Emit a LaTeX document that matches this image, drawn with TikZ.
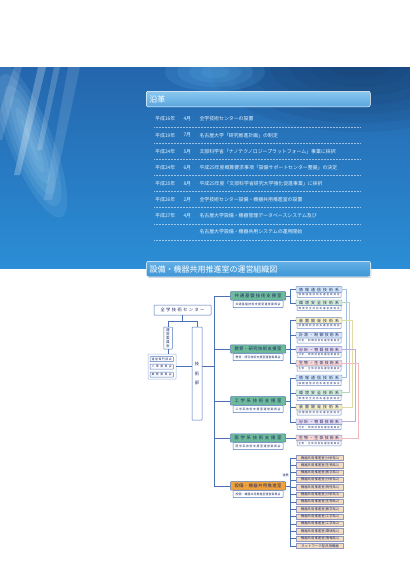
\documentclass[tikz,border=0pt]{standalone}
\usepackage{fontspec}
\newfontfamily\jp{Noto Sans CJK JP}
\usetikzlibrary{shadows}
\definecolor{bandtop}{HTML}{2466AD}
\definecolor{bandbot}{HTML}{2B8ED6}
\definecolor{banddark}{HTML}{14365F}
\definecolor{bandlight}{HTML}{5FB0EA}
\definecolor{streak}{HTML}{B8E4FA}
\definecolor{histtxt}{HTML}{EAF4FC}
\definecolor{hdrtop}{HTML}{8AC8EF}
\definecolor{hdrbot}{HTML}{5AA6DE}
\definecolor{hdrtopB}{HTML}{62B0E6}
\definecolor{hdrbotB}{HTML}{3F95D6}
\definecolor{navy}{HTML}{1F2D6B}
\definecolor{lineblue}{HTML}{4A70B5}
\definecolor{boxblue}{HTML}{4F74B8}
\definecolor{roomgreen}{HTML}{6DBB98}
\definecolor{roomorange}{HTML}{F2A23A}
\definecolor{cInfo}{HTML}{CFE3F5}
\definecolor{cEnv}{HTML}{D3ECD3}
\definecolor{cDev}{HTML}{F7EFC0}
\definecolor{cMes}{HTML}{D6E4F5}
\definecolor{cAna}{HTML}{E4D8F0}
\definecolor{cBio}{HTML}{F6D3CF}
\definecolor{lInfoC}{HTML}{A4BEDE}
\definecolor{lEnvC}{HTML}{B0D8B8}
\definecolor{lDevC}{HTML}{DCDCA8}
\definecolor{lAnaC}{HTML}{BCAEDC}
\definecolor{lBioC}{HTML}{F2B8BE}
\definecolor{peach}{HTML}{F3DCBF}
\definecolor{peachborder}{HTML}{9098C0}
\makeatletter
\def\sp@go{\@tfor\sp@c:=}
\newcommand\spreadw[2]{\makebox[#1]{\edef\sp@list{#2}\def\sp@first{1}%
  \expandafter\sp@go\sp@list\do{\ifx\sp@first\@empty\hfill\fi\sp@c\let\sp@first\@empty}}}
\makeatother
\newcommand\myfs[1]{\fontsize{#1}{#1}\selectfont}
\begin{document}
\begin{tikzpicture}[x=1pt,y=-1pt,
  hdr/.style={draw=white, line width=0.5pt, rounded corners=2pt, text=white,
    font=\jp\myfs{8}, inner xsep=3pt, text width=218pt, align=left, minimum height=15.5pt},
  histline/.style={draw=white, opacity=0.55, line width=0.4pt, dash pattern=on 0.6pt off 0.9pt},
  histtext/.style={text=histtxt, font=\jp\myfs{4.9}, anchor=west, inner sep=0pt},
  conn/.style={draw=lineblue, line width=0.7pt},
  wbox/.style={draw=boxblue, fill=white, line width=0.5pt, text=navy, inner sep=0pt, rounded corners=0.5pt},
  roombox/.style={draw=boxblue, line width=0.5pt, text=navy, inner sep=0pt, minimum width=55pt,
    minimum height=8.3pt, font=\jp\myfs{4.4}, rounded corners=0.6pt},
  roomsub/.style={wbox, minimum width=50pt, minimum height=7pt, font=\jp\myfs{2.9}},
  itemm/.style={draw=boxblue!80, line width=0.45pt, text=navy, inner sep=0pt, minimum width=46pt,
    minimum height=5.7pt, font=\jp\myfs{3.9}, rounded corners=0.5pt},
  items/.style={wbox, draw=boxblue!80, minimum width=44pt, minimum height=5pt, font=\jp\myfs{2.5}},
  colline/.style={line width=0.9pt},
  listbox/.style={draw=peachborder, fill=peach, line width=0.4pt, text=navy, inner sep=0pt,
    minimum width=47pt, minimum height=5.2pt, font=\jp\myfs{3.4},
    drop shadow={shadow xshift=0.6pt, shadow yshift=-0.6pt, fill=black!35, opacity=1}}
]
\useasboundingbox (0,0) rectangle (410,579);
\fill[white] (0,0) rectangle (410,579);
% ---- blue band ----
\begin{scope}
\clip (0,67) rectangle (410,268.5);
\shade[top color=bandtop, bottom color=bandbot] (0,67) rectangle (410,268.5);
\foreach \r in {1,...,7}{
  \fill[banddark, opacity=0.11] (360,66) ellipse ({170-20*\r} and {75-9*\r});
}
\foreach \r in {1,...,4}{
  \fill[bandlight, opacity=0.16] (215,72) ellipse ({62-12*\r} and {24-4.5*\r});
}
\foreach \r in {1,...,6}{
  \fill[streak, opacity=0.11, rotate around={-68:(30,140)}] (30,140) ellipse ({95-12*\r} and {26-4*\r});
}
\fill[white, opacity=0.25] (38,67) -- (46,67) -- (20,175) -- (14,175) -- cycle;
\fill[white, opacity=0.18] (54,67) -- (60,67) -- (42,150) -- (37,150) -- cycle;
\fill[white, opacity=0.15] (14,67) -- (22,67) -- (2,140) -- (0,140) -- (0,110) -- cycle;
\fill[white, opacity=0.12] (68,67) -- (80,67) -- (52,200) -- (44,200) -- cycle;
\end{scope}
% ---- history ----
\node[hdr, top color=hdrtop, bottom color=hdrbot] (hist) at (258.3,99) {沿革};
\foreach \i/\yr/\mo/\ev in {
  1/平成16年/4月/全学技術センターの設置,
  2/平成19年/7月/名古屋大学「研究推進計画」の制定,
  3/平成24年/5月/文部科学省「ナノテクノロジープラットフォーム」事業に採択,
  4/平成24年/6月/平成25年度概算要求事項「設備サポートセンター整備」の決定,
  5/平成25年/8月/平成25年度「文部科学省研究大学強化促進事業」に採択,
  6/平成26年/2月/全学技術センター設備・機器共用推進室の設置,
  7/平成27年/4月/名古屋大学設備・機器管理データベースシステム及び,
  8///名古屋大学設備・機器共用システムの運用開始}{
  \node[histtext] (yr\i) at (155,{119+16.15*(\i-1)}) {\yr};
  \node[histtext] (mo\i) at (183.3,{119+16.15*(\i-1)}) {\mo};
  \node[histtext] (ev\i) at (199.3,{119+16.15*(\i-1)}) {\ev};
}
\foreach \i in {1,...,8}{
  \draw[histline] (154,{126.8+16.15*(\i-1)}) -- (360,{126.8+16.15*(\i-1)});
}
% ---- org chart header ----
\node[hdr, top color=hdrtopB, bottom color=hdrbotB,
  drop shadow={shadow xshift=0.8pt, shadow yshift=-1.2pt, fill=black!30, opacity=0.6}]
  (orgh) at (258.5,269) {設備・機器共用推進室の運営組織図};
% ---- left part ----
\node[wbox, minimum width=57pt, minimum height=10pt, font=\jp\myfs{4.3}] (center) at (182.5,310)
  {\spreadw{44pt}{全学技術センター}};
\node[wbox, minimum width=8.5pt, minimum height=22pt, align=center,
  font=\jp\fontsize{3.6}{4.1}\selectfont] (unei) at (168,338) {運\\営\\委\\員\\会};
\node[wbox, minimum width=10pt, minimum height=93pt, align=center,
  font=\jp\fontsize{4.3}{9.6}\selectfont] (gijutsu) at (197,373.5) {技\\術\\部};
\node[wbox, draw=boxblue!55, minimum width=28pt, minimum height=25pt] (grp) at (162,366.5) {};
\node[wbox, minimum width=23.3pt, minimum height=5pt, font=\jp\myfs{2.9}] (c1) at (161.7,359.2)
  {\spreadw{20pt}{運営専門部会}};
\node[wbox, minimum width=23.3pt, minimum height=5pt, font=\jp\myfs{2.9}] (c2) at (161.7,366.7)
  {\spreadw{20pt}{人事委員会}};
\node[wbox, minimum width=23.3pt, minimum height=5pt, font=\jp\myfs{2.9}] (c3) at (161.7,374.7)
  {\spreadw{20pt}{業務委員会}};
\coordinate (j1) at (182.5,321.7);
\coordinate (trunkx) at (214,0);
\coordinate (bx) at (290,0);
\draw[conn] (center.south) -- (j1);
\draw[conn] (unei.north) |- (j1);
\draw[conn] (gijutsu.north) |- (j1);
\draw[conn] (unei.south) -- (unei.south |- grp.north);
\draw[conn] (grp.east) -- (grp.east -| gijutsu.west);
\draw[conn] (grp.east -| gijutsu.east) -- (grp.east -| trunkx);
% ---- rooms ----
\foreach \n/\yc/\col/\lab in {
  kyotsu/295.85/roomgreen/共通基盤技術支援室,
  kyoiku/349/roomgreen/教育・研究技術支援室,
  kogaku/400.85/roomgreen/工学系技術支援室,
  igaku/438/roomgreen/医学系技術支援室,
  setsubi/485.85/roomorange/設備・機器共用推進室}{
  \node[roombox, fill=\col] (\n) at (258,\yc) {\spreadw{47pt}{\lab}};
  \node[roomsub] (\n-sub) at (258,\yc+8.15) {\spreadw{45pt}{\lab 運営委員会}};
}
\draw[conn] (kyotsu.west -| trunkx) -- (setsubi.west -| trunkx);
\foreach \n in {kyotsu,kyoiku,kogaku,igaku,setsubi}{
  \draw[conn] (\n.west -| trunkx) -- (\n.west);
}
% ---- technical groups ----
\foreach \n/\t/\c/\lab in {
  A1/286.7/cInfo/情報通信技術系,
  A2/300/cEnv/環境安全技術系,
  B1/317.7/cDev/装置開発技術系,
  B2/332.3/cMes/計測・制御技術系,
  B3/346.7/cAna/分析・物質技術系,
  B4/360.5/cBio/生物・生体技術系,
  C1/375/cInfo/情報通信技術系,
  C2/390/cEnv/環境安全技術系,
  C3/404.3/cDev/装置開発技術系,
  C4/419/cAna/分析・物質技術系,
  D1/435.15/cBio/生物・生体技術系}{
  \node[itemm, fill=\c] (\n-m) at (319,\t+2.85) {\spreadw{40pt}{\lab}};
  \node[items] (\n-s) at (319,\t+8.2) {\spreadw{41pt}{\lab 運営委員会}};
}
% brackets from rooms
\draw[conn, line width=0.6pt] (kyotsu.east) -- (kyotsu.east -| bx);
\draw[conn, line width=0.6pt] (A1-m.west) -- (A1-m.west -| bx) -- (A2-m.west -| bx) -- (A2-m.west);
\draw[conn, line width=0.6pt] (kyoiku.east) -- (kyoiku.east -| bx);
\draw[conn, line width=0.6pt] (B1-m.west) -- (B1-m.west -| bx) -- (B4-m.west -| bx) -- (B4-m.west);
\draw[conn, line width=0.6pt] (B2-m.west -| bx) -- (B2-m.west);
\draw[conn, line width=0.6pt] (B3-m.west -| bx) -- (B3-m.west);
\draw[conn, line width=0.6pt] (kogaku.east) -- (kogaku.east -| bx);
\draw[conn, line width=0.6pt] (C1-m.west) -- (C1-m.west -| bx) -- (C4-m.west -| bx) -- (C4-m.west);
\draw[conn, line width=0.6pt] (C2-m.west -| bx) -- (C2-m.west);
\draw[conn, line width=0.6pt] (C3-m.west -| bx) -- (C3-m.west);
\draw[conn, line width=0.6pt] (igaku.east) -- (igaku.east -| D1-m.west);
% colored lines on the right
\coordinate (vInfo) at (346,0);
\coordinate (vEnv) at (349,0);
\coordinate (vDev) at (352,0);
\coordinate (vAna) at (355,0);
\coordinate (vBio) at (358,0);
\draw[colline, lInfoC] (A1-m.east) -- (A1-m.east -| vInfo) -- (C1-m.east -| vInfo) -- (C1-m.east);
\draw[colline, lEnvC] (A2-m.east) -- (A2-m.east -| vEnv) -- (C2-m.east -| vEnv) -- (C2-m.east);
\draw[colline, lDevC] (B1-m.east) -- (B1-m.east -| vDev) -- (C3-m.east -| vDev) -- (C3-m.east);
\draw[colline, lAnaC] (B3-m.east) -- (B3-m.east -| vAna) -- (C4-m.east -| vAna) -- (C4-m.east);
\draw[colline, lBioC] (B4-m.east) -- (B4-m.east -| vBio) -- (D1-m.east -| vBio) -- (D1-m.east);
% ---- equipment sharing list ----
\foreach \k/\lab in {
  1/機器共用推進室(分析系1),
  2/機器共用推進室(生物系1),
  3/機器共用推進室(医学系1),
  4/機器共用推進室(分析系2),
  5/機器共用推進室(物性系1),
  6/機器共用推進室(分析系3),
  7/機器共用推進室(生物系2),
  8/機器共用推進室(医学系2),
  9/機器共用推進室(工学系1),
  10/機器共用推進室(工学系2),
  11/機器共用推進室(環境系1),
  12/機器共用推進室(情報系1),
  13/ネットワーク型共用機器}{
  \node[listbox] (L\k) at (320,{457.9+7.33*(\k-1)}) {\lab};
}
\draw[conn, line width=0.6pt] (setsubi.east) -- (setsubi.east -| bx);
\draw[conn, line width=0.6pt] (L1.west -| bx) -- (L13.west -| bx);
\foreach \k in {1,...,13}{
  \draw[conn, line width=0.6pt] (L\k.west -| bx) -- (L\k.west);
}
\node[text=navy, font=\jp\myfs{3}, inner sep=0pt] (renkei) at (285.5,475.5) {連携};
\end{tikzpicture}
\end{document}
